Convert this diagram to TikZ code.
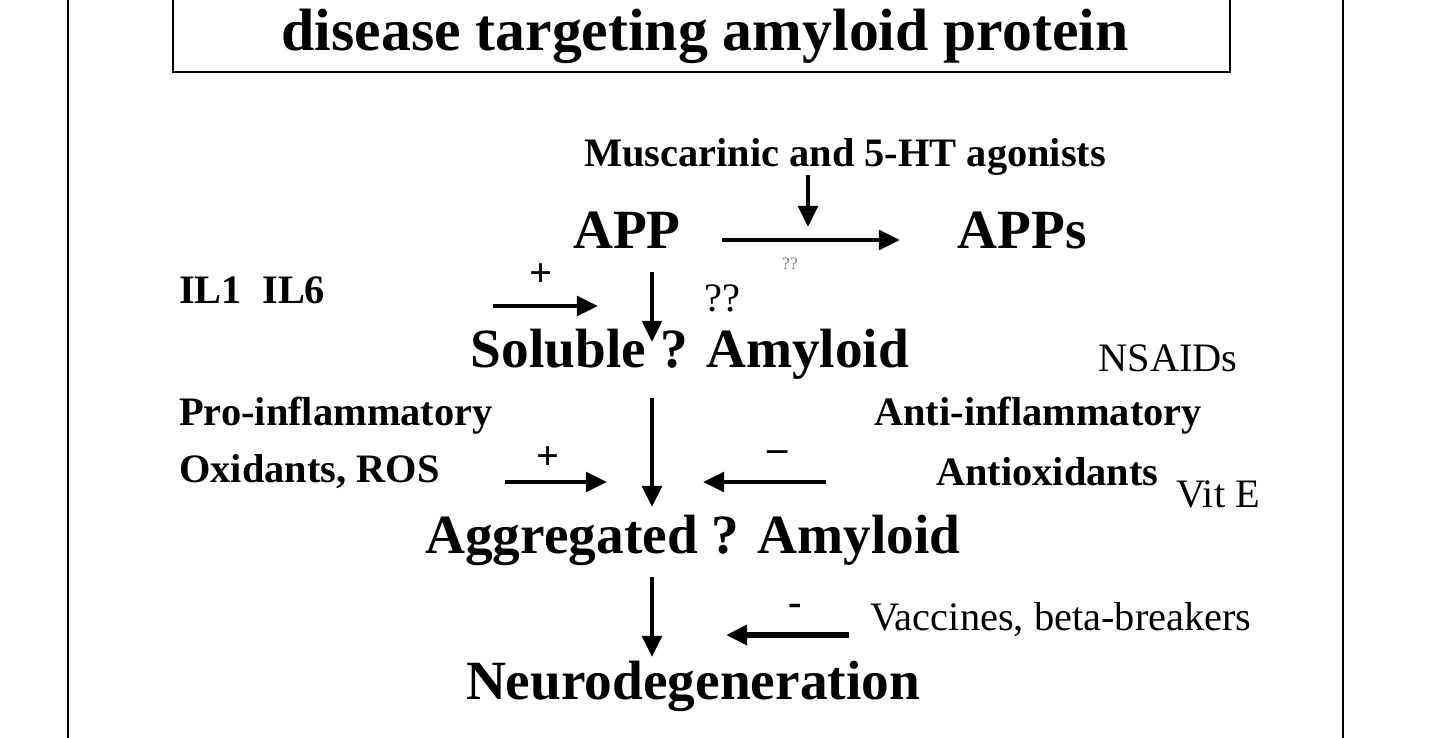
\documentclass[tikz,border=0pt]{standalone}
\usepackage{fontspec}
\setmainfont{Liberation Serif}
\usetikzlibrary{arrows.meta}
\begin{document}
\begin{tikzpicture}[x=0.02cm,y=-0.02cm,
 big/.style={font=\fontsize{31.5}{32}\selectfont\bfseries},
 mid/.style={font=\fontsize{23}{24}\selectfont\bfseries},
 reg/.style={font=\fontsize{23}{24}\selectfont},
 arr/.style={line width=2.6pt,-{Triangle[length=12pt,width=11pt]}}]
\useasboundingbox (0,0) rectangle (1440,737);
\draw[line width=1.2pt] (68,-5) -- (68,745);
\draw[line width=1.2pt] (1343,-5) -- (1343,745);
\draw[line width=1.2pt] (173,-5) rectangle (1230,72);
\node[font=\fontsize{34}{35}\selectfont\bfseries] (title) at (705,36) {disease targeting amyloid protein};
\node[mid] (mus) at (845,157) {Muscarinic and 5-HT agonists};
\node[big] (app) at (627,230) {APP};
\node[big] (apps) at (1022,230) {APPs};
\coordinate (a1) at (722,240); \coordinate (a2) at (900,240);
\draw[arr] (a1) -- (a2);
\coordinate (m1) at (808,175); \coordinate (m2) at (808,227);
\draw[arr] (m1) -- (m2);
\node[font=\fontsize{10}{10}\selectfont,gray] (qq) at (790,264) {??};
\node[mid,anchor=west] (il) at (173,290) {IL1\ \ IL6};
\node[mid] (p1) at (541,275) {+};
\coordinate (b1) at (493,306); \coordinate (b2) at (598,306);
\draw[arr] (b1) -- (b2);
\coordinate (c1) at (652,272); \coordinate (c2) at (652,342);
\draw[arr] (c1) -- (c2);
\node[font=\fontsize{23}{24}\selectfont] (q2) at (722,298) {??};
\node[big] (sol) at (690,354) {Soluble ? Amyloid};
\node[reg] (ns) at (1168,358) {NSAIDs};
\node[mid,anchor=west] (pro) at (173,416) {Pro-inflammatory};
\node[mid,anchor=west] (anti) at (868,416) {Anti-inflammatory};
\node[mid,anchor=west] (ox) at (173,472) {Oxidants, ROS};
\node[mid] (p2) at (548,458) {+};
\coordinate (d1) at (505,482); \coordinate (d2) at (607,482);
\draw[arr] (d1) -- (d2);
\coordinate (e1) at (652,398); \coordinate (e2) at (652,507);
\draw[arr] (e1) -- (e2);
\coordinate (f1) at (826,482); \coordinate (f2) at (703,482);
\draw[arr] (f1) -- (f2);
\node[mid] (m3) at (778,456) {--};
\node[mid,anchor=west] (aox) at (930,472) {Antioxidants};
\node[reg] (vit) at (1218,494) {Vit E};
\node[big] (agg) at (693,540) {Aggregated ? Amyloid};
\coordinate (g1) at (652,577); \coordinate (g2) at (652,657);
\draw[arr] (g1) -- (g2);
\coordinate (h1) at (849,635); \coordinate (h2) at (726,635);
\draw[arr,line width=3.6pt] (h1) -- (h2);
\node[mid] (m4) at (795,610) {-};
\node[reg,anchor=west] (vac) at (864,620) {Vaccines, beta-breakers};
\node[big] (neu) at (693,686) {Neurodegeneration};
\end{tikzpicture}
\end{document}
